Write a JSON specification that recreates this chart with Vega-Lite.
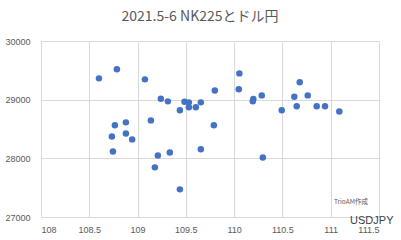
{
  "$schema": "https://vega.github.io/schema/vega-lite/v6.json",
  "width": 338,
  "height": 176,
  "autosize": {"type": "none"},
  "padding": {"left": 41, "top": 41, "right": 22, "bottom": 23},
  "background": "white",
  "title": {
    "text": "2021.5-6 NK225とドル円",
    "font": "Noto Sans CJK JP",
    "fontSize": 14,
    "fontWeight": "normal",
    "color": "#595959",
    "anchor": "middle",
    "frame": "group",
    "dx": -10,
    "offset": 13
  },
  "config": {
    "view": {"stroke": null},
    "axis": {
      "gridColor": "#d9d9d9",
      "gridWidth": 1,
      "domain": false,
      "ticks": false,
      "labelColor": "#595959",
      "labelFont": "Liberation Sans",
      "labelFontSize": 9
    }
  },
  "datasets": {
    "points": [
      {"usdjpy": 108.600, "nk225": 29363},
      {"usdjpy": 108.786, "nk225": 29517},
      {"usdjpy": 109.076, "nk225": 29346},
      {"usdjpy": 109.241, "nk225": 29017},
      {"usdjpy": 109.314, "nk225": 28971},
      {"usdjpy": 109.438, "nk225": 28818},
      {"usdjpy": 109.486, "nk225": 28966},
      {"usdjpy": 109.531, "nk225": 28954},
      {"usdjpy": 109.531, "nk225": 28869},
      {"usdjpy": 109.603, "nk225": 28869},
      {"usdjpy": 109.655, "nk225": 28954},
      {"usdjpy": 109.800, "nk225": 29158},
      {"usdjpy": 110.054, "nk225": 29448},
      {"usdjpy": 110.048, "nk225": 29176},
      {"usdjpy": 110.199, "nk225": 29012},
      {"usdjpy": 110.193, "nk225": 28971},
      {"usdjpy": 110.286, "nk225": 29073},
      {"usdjpy": 110.493, "nk225": 28818},
      {"usdjpy": 110.623, "nk225": 29051},
      {"usdjpy": 110.679, "nk225": 29295},
      {"usdjpy": 110.648, "nk225": 28886},
      {"usdjpy": 110.762, "nk225": 29073},
      {"usdjpy": 110.855, "nk225": 28886},
      {"usdjpy": 110.941, "nk225": 28886},
      {"usdjpy": 111.089, "nk225": 28800},
      {"usdjpy": 108.765, "nk225": 28562},
      {"usdjpy": 108.879, "nk225": 28613},
      {"usdjpy": 109.138, "nk225": 28647},
      {"usdjpy": 109.790, "nk225": 28562},
      {"usdjpy": 108.734, "nk225": 28374},
      {"usdjpy": 108.879, "nk225": 28425},
      {"usdjpy": 108.944, "nk225": 28323},
      {"usdjpy": 108.745, "nk225": 28118},
      {"usdjpy": 109.210, "nk225": 28050},
      {"usdjpy": 109.334, "nk225": 28101},
      {"usdjpy": 109.655, "nk225": 28153},
      {"usdjpy": 110.297, "nk225": 28016},
      {"usdjpy": 109.179, "nk225": 27846},
      {"usdjpy": 109.438, "nk225": 27471}
    ],
    "note": [
      {"usdjpy": 111.21, "nk225": 27260, "label": "TrioAM作成"}
    ]
  },
  "layer": [
    {
      "data": {"name": "points"},
      "mark": {"type": "point", "filled": true, "size": 42, "color": "#4472C4", "opacity": 1},
      "encoding": {
        "x": {
          "field": "usdjpy",
          "type": "quantitative",
          "scale": {"domain": [108, 111.5], "nice": false, "zero": false},
          "axis": {
            "values": [108, 108.5, 109, 109.5, 110, 110.5, 111, 111.5],
            "format": "~g",
            "labelPadding": 8,
            "title": "USDJPY",
            "titleFont": "Liberation Sans",
            "titleFontSize": 11,
            "titleFontWeight": "normal",
            "titleColor": "#404040",
            "titleAnchor": "end",
            "titleAlign": "right",
            "titleBaseline": "middle",
            "titleX": 352,
            "titleY": 3
          }
        },
        "y": {
          "field": "nk225",
          "type": "quantitative",
          "scale": {"domain": [27000, 30000], "nice": false, "zero": false},
          "axis": {
            "values": [27000, 27500, 28000, 28500, 29000, 29500, 30000],
            "format": "d",
            "labelPadding": 11,
            "title": null
          }
        }
      }
    },
    {
      "data": {"name": "note"},
      "mark": {"type": "text", "font": "Noto Sans CJK JP", "fontSize": 6.5, "color": "#595959", "align": "center", "baseline": "middle"},
      "encoding": {
        "x": {"field": "usdjpy", "type": "quantitative"},
        "y": {"field": "nk225", "type": "quantitative"},
        "text": {"field": "label"}
      }
    }
  ]
}
